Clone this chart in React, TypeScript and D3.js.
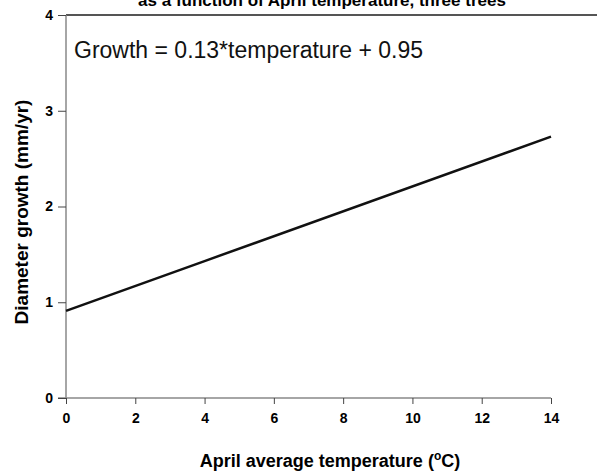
import React, { useEffect, useRef } from 'react';
import * as d3 from 'd3';

const temps = [0, 4, 14];
const growth = [0.91, 1.43, 2.73];
const xTicks = [0, 2, 4, 6, 8, 10, 12, 14];
const yTicks = [0, 1, 2, 3, 4];

const W = 597, H = 473;
const margin = { top: 15, right: 46, bottom: 75, left: 66 };

export default function App() {
  const ref = useRef<SVGSVGElement>(null);

  useEffect(() => {
    const svg = d3.select(ref.current);
    svg.selectAll('*').remove();
    const font = 'Arial, "Liberation Sans", sans-serif';

    const x = d3.scaleLinear().domain([0, 14]).range([margin.left, W - margin.right]);
    const y = d3.scaleLinear().domain([0, 4]).range([H - margin.bottom, margin.top]);

    // title, cut off at the top
    svg.append('text')
      .attr('x', 322).attr('y', 6)
      .attr('text-anchor', 'middle')
      .attr('font-family', font).attr('font-weight', 'bold').attr('font-size', 17)
      .text('as a function of April temperature, three trees');

    // top border
    svg.append('line')
      .attr('x1', margin.left).attr('x2', W)
      .attr('y1', y(4)).attr('y2', y(4))
      .attr('stroke', '#555').attr('stroke-width', 2);

    const xAxis = svg.append('g')
      .attr('transform', `translate(0,${y(0)})`)
      .call(d3.axisBottom(x).tickValues(xTicks).tickSize(6).tickPadding(9).tickFormat(d3.format('d')));
    xAxis.select('.domain').attr('stroke', '#888').attr('stroke-width', 1.5)
      .attr('d', `M${x(0) - 8},0H${x(14)}`);
    xAxis.selectAll('.tick line').attr('stroke', '#444');
    xAxis.selectAll('text').attr('font-family', font).attr('font-weight', 'bold')
      .style('font-size', '14px').attr('fill', '#000');

    const yAxis = svg.append('g')
      .attr('transform', `translate(${margin.left},0)`)
      .call(d3.axisLeft(y).tickValues(yTicks).tickSize(8).tickPadding(5).tickFormat(d3.format('d')));
    yAxis.select('.domain').attr('stroke', '#888').attr('stroke-width', 1.5)
      .attr('d', `M0,${y(0)}V${y(4)}`);
    yAxis.selectAll('.tick line').attr('stroke', '#444');
    yAxis.selectAll('text').attr('font-family', font).attr('font-weight', 'bold')
      .style('font-size', '14px').attr('fill', '#000');

    const pts = temps.map((t, i) => [t, growth[i]] as [number, number]);
    svg.append('path')
      .datum(pts)
      .attr('fill', 'none').attr('stroke', '#111').attr('stroke-width', 2.5)
      .attr('d', d3.line<[number, number]>().x(d => x(d[0])).y(d => y(d[1])));

    svg.append('text')
      .attr('x', 74).attr('y', 58)
      .attr('font-family', font).attr('font-size', 23).attr('fill', '#111')
      .text('Growth = 0.13*temperature + 0.95');

    const xl = svg.append('text')
      .attr('x', 330).attr('y', 467)
      .attr('text-anchor', 'middle')
      .attr('font-family', font).attr('font-weight', 'bold').attr('font-size', 18);
    xl.append('tspan').text('April average temperature (');
    xl.append('tspan').attr('font-size', 12).attr('dy', -7).text('o');
    xl.append('tspan').attr('dy', 7).text('C)');

    svg.append('text')
      .attr('transform', `translate(28,212) rotate(-90)`)
      .attr('text-anchor', 'middle')
      .attr('font-family', font).attr('font-weight', 'bold').attr('font-size', 19)
      .text('Diameter growth (mm/yr)');
  }, []);

  return (
    <svg ref={ref} width={W} height={H}
      style={{ position: 'absolute', left: 0, top: 0, background: '#fff' }} />
  );
}
